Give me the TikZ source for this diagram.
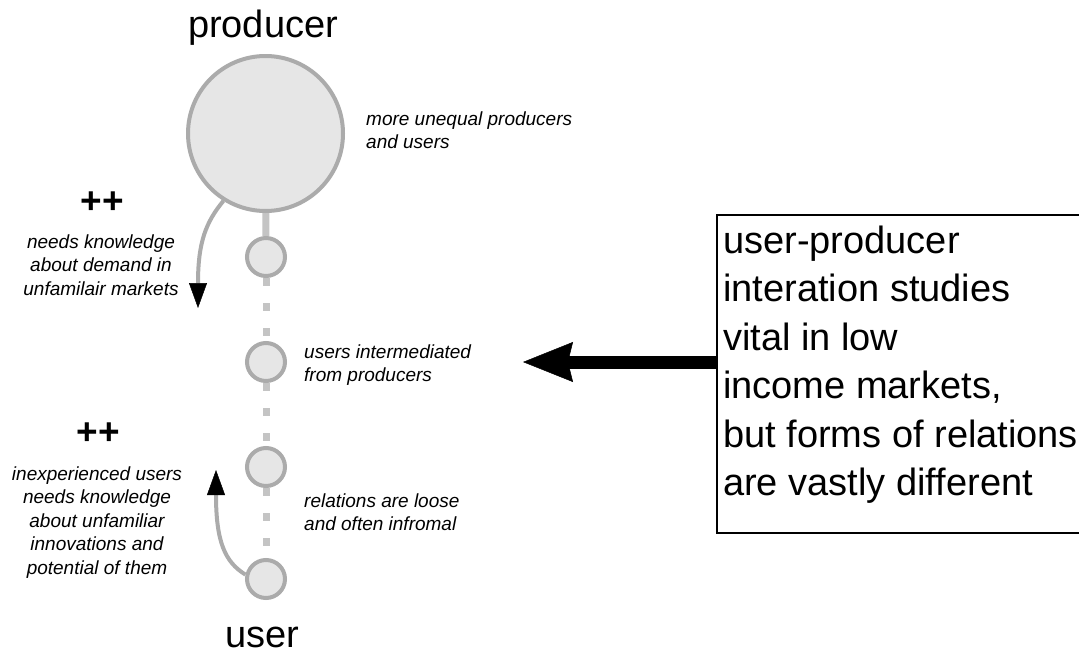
\documentclass[tikz,border=0pt]{standalone}
\usepackage{fontspec}
\setmainfont{Liberation Sans}
\usetikzlibrary{arrows.meta}
\definecolor{cfill}{HTML}{E6E6E6}
\definecolor{cstroke}{HTML}{ABABAB}
\definecolor{cconn}{HTML}{C4C4C4}
\pgfdeclarelayer{bg}
\pgfsetlayers{bg,main}
\begin{document}
\begin{tikzpicture}[x=1pt,y=-1pt,
  bignode/.style={circle, draw=cstroke, fill=cfill, line width=4pt, minimum size=155pt, inner sep=0pt},
  smallnode/.style={circle, draw=cstroke, fill=cfill, line width=4pt, minimum size=38pt, inner sep=0pt},
  solidlink/.style={draw=cconn, line width=7pt},
  dotlink/.style={draw=cconn, line width=7pt, dash pattern=on 8pt off 17pt},
  curvearrow/.style={draw=cstroke, line width=4pt, -{Triangle[length=25pt,width=18pt,black,line width=0.5pt]}},
  bigarrow/.style={draw=black, line width=13pt, -{Stealth[length=50pt,width=40pt,inset=5pt,line width=0.5pt]}},
  note/.style={font=\fontsize{19}{23.5}\selectfont\itshape, inner sep=0pt, align=left, anchor=north west},
  centernote/.style={font=\fontsize{19}{23.5}\selectfont\itshape, inner sep=0pt, align=center, anchor=north},
  plusmark/.style={font=\fontsize{37}{40}\selectfont\bfseries, inner sep=0pt},
  titletext/.style={font=\fontsize{38}{44}\selectfont, inner sep=0pt, anchor=base},
  boxtext/.style={font=\fontsize{38}{48.4}\selectfont, inner sep=0pt, align=left, anchor=north west},
  framebox/.style={draw=black, line width=2pt, rectangle, anchor=north west, minimum width=380pt, minimum height=318pt, inner sep=0pt},
]
\path[use as bounding box, clip] (0,0) rectangle (1079,656);
\begin{pgfonlayer}{bg}
\fill[white] (0,0) rectangle (1079,656);
\end{pgfonlayer}

% circles
\node[bignode] (prod) at (265.5,133.5) {};
\node[smallnode] (c1) at (266,257) {};
\node[smallnode] (c2) at (266,362) {};
\node[smallnode] (c3) at (266,467) {};
\node[smallnode] (c4) at (266,579) {};

% connectors (behind circles)
\begin{pgfonlayer}{bg}
\path[solidlink] (prod) -- (c1);
\path[dotlink] (c1) -- (c2);
\path[dotlink] (c2) -- (c3);
\path[dotlink] (c3) -- (c4);
\end{pgfonlayer}

% titles
\node[titletext] (ptitle) at (263,37) {producer};
\node[titletext] (utitle) at (262.5,647) {user};

% curved arrows
\coordinate (a1tip) at (198,308);
\coordinate (a2tip) at (216,470);
\draw[curvearrow] (prod.238) .. controls (206,222) and (198,242) .. (a1tip);
\draw[curvearrow] (c4.168) .. controls (225,562) and (216,542) .. (a2tip);

% left notes
\node[plusmark] (pp1) at (102,203) {++};
\node[centernote] (n1) at (101,234.4) {needs knowledge\\about demand in\\unfamilair markets};
\node[plusmark] (pp2) at (98,434) {++};
\node[centernote] (n2) at (97,466.4) {inexperienced users\\needs knowledge\\about unfamiliar\\innovations and\\potential of them};

% right notes
\node[note] (r1) at (366,111.4) {more unequal producers\\and users};
\node[note] (r2) at (304,344.4) {users intermediated\\from producers};
\node[note] (r3) at (304,493.4) {relations are loose\\and often infromal};

% box
\node[framebox] (box) at (716,214) {};
\node[boxtext] (btext) at (723,225.8) {user-producer\\interation studies\\vital in low\\income markets,\\but forms of relations\\are vastly different};

\coordinate (atip) at (523,362);
\draw[bigarrow] (atip -| box.west) -- (atip);
\end{tikzpicture}
\end{document}
